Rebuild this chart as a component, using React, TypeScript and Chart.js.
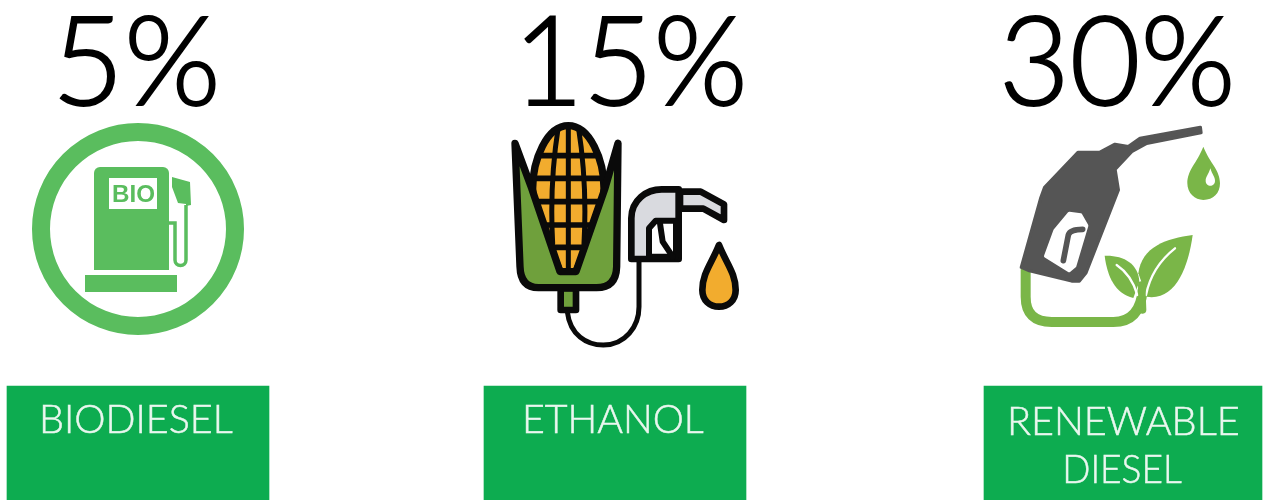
import React, { useEffect, useRef } from "react";
import { Chart, registerables } from "chart.js";

Chart.register(...registerables);

const categories = ["BIODIESEL", "ETHANOL", "RENEWABLE DIESEL"];
const shareLabels = ["5%", "15%", "30%"];
const labelLines = [["BIODIESEL"], ["ETHANOL"], ["RENEWABLE", "DIESEL"]];
const boxCenters = [138, 615, 1123];
const boxWidths = [262, 262, 278];
const boxTop = 386;
const boxBottom = 500;
const shareBounds = [[60, 215], [525, 742], [1005, 1230]];
const labelBounds = [[[43, 233, 433]], [[526, 704, 433]], [[1011, 1238, 435], [1066, 1182, 483]]];

function fitText(ctx: CanvasRenderingContext2D, text: string, left: number, right: number, baseline: number, font: string, color: string, bold = 0) {
  ctx.save();
  ctx.font = font;
  ctx.fillStyle = color;
  ctx.strokeStyle = color;
  ctx.textAlign = "left";
  ctx.textBaseline = "alphabetic";
  const m = ctx.measureText(text);
  const ink = m.actualBoundingBoxRight + m.actualBoundingBoxLeft;
  const sx = (right - left) / ink;
  ctx.translate(left, baseline);
  ctx.scale(sx, 1);
  ctx.fillText(text, m.actualBoundingBoxLeft, 0);
  if (bold) {
    ctx.lineWidth = bold;
    ctx.strokeText(text, m.actualBoundingBoxLeft, 0);
  }
  ctx.restore();
}

function poly(ctx: CanvasRenderingContext2D, pts: number[][]) {
  ctx.beginPath();
  pts.forEach((p, i) => (i ? ctx.lineTo(p[0], p[1]) : ctx.moveTo(p[0], p[1])));
  ctx.closePath();
}

function bioIcon(ctx: CanvasRenderingContext2D) {
  const g = "#5ABD5E";
  ctx.save();
  ctx.strokeStyle = g;
  ctx.fillStyle = g;
  ctx.lineWidth = 18;
  ctx.beginPath();
  ctx.arc(138, 229, 97, 0, Math.PI * 2);
  ctx.stroke();
  ctx.beginPath();
  ctx.roundRect(94, 167, 75, 103, [6, 6, 0, 0]);
  ctx.fill();
  ctx.fillRect(85, 275, 92, 17);
  ctx.fillStyle = "#fff";
  ctx.fillRect(109, 178, 48, 31);
  fitText(ctx, "BIO", 113, 154, 202, "bold 23px 'Liberation Sans'", g);
  ctx.fillStyle = g;
  poly(ctx, [[172, 177], [190, 182], [191, 205], [186, 206], [186, 204], [178, 203], [172, 187]]);
  ctx.fill();
  ctx.lineWidth = 3.5;
  ctx.beginPath();
  ctx.moveTo(168, 223);
  ctx.lineTo(175, 223);
  ctx.lineTo(175, 260);
  ctx.arc(180.5, 260, 5.5, Math.PI, 0, true);
  ctx.lineTo(186, 205);
  ctx.stroke();
  ctx.restore();
}

function cornIcon(ctx: CanvasRenderingContext2D) {
  const k = "#0A0A0A";
  const o = "#F2AC2E";
  ctx.save();
  ctx.translate(490, 110);
  ctx.scale(1 / 3, 1 / 3);
  ctx.lineJoin = "round";
  ctx.lineCap = "round";
  ctx.strokeStyle = k;
  // hose
  ctx.lineWidth = 15;
  ctx.beginPath();
  ctx.moveTo(232, 605);
  ctx.bezierCurveTo(240, 675, 290, 705, 340, 705);
  ctx.bezierCurveTo(405, 705, 447, 650, 447, 590);
  ctx.lineTo(447, 445);
  ctx.stroke();
  // stem
  ctx.lineWidth = 20;
  ctx.fillStyle = "#6FA03C";
  ctx.beginPath();
  ctx.rect(212, 535, 46, 65);
  ctx.fill();
  ctx.stroke();
  // cob
  const cob = () => {
    ctx.beginPath();
    ctx.moveTo(235, 47);
    ctx.bezierCurveTo(170, 47, 128, 150, 128, 235);
    ctx.bezierCurveTo(128, 320, 190, 430, 210, 485);
    ctx.lineTo(258, 485);
    ctx.bezierCurveTo(285, 420, 342, 320, 342, 235);
    ctx.bezierCurveTo(342, 150, 300, 47, 235, 47);
    ctx.closePath();
  };
  ctx.fillStyle = o;
  cob();
  ctx.fill();
  ctx.save();
  cob();
  ctx.clip();
  ctx.lineWidth = 17;
  [137, 205, 275, 345, 412].forEach((y) => {
    ctx.beginPath();
    ctx.moveTo(120, y);
    ctx.lineTo(350, y);
    ctx.stroke();
  });
  ctx.lineWidth = 15;
  ctx.beginPath();
  ctx.moveTo(235, 40);
  ctx.lineTo(235, 490);
  ctx.stroke();
  [[205, 178, 188, 400], [265, 292, 282, 400]].forEach(([s, m, b, y]) => {
    ctx.beginPath();
    ctx.moveTo(s, 50);
    ctx.quadraticCurveTo(m, 220, b, y);
    ctx.stroke();
  });
  ctx.restore();
  ctx.lineWidth = 22;
  cob();
  ctx.stroke();
  // husk
  ctx.fillStyle = "#6FA03C";
  ctx.lineWidth = 22;
  ctx.beginPath();
  ctx.moveTo(75, 100);
  ctx.lineTo(125, 235);
  ctx.lineTo(210, 485);
  ctx.lineTo(258, 485);
  ctx.lineTo(345, 235);
  ctx.lineTo(384, 100);
  ctx.lineTo(380, 470);
  ctx.quadraticCurveTo(378, 533, 320, 533);
  ctx.lineTo(145, 533);
  ctx.quadraticCurveTo(92, 533, 90, 470);
  ctx.closePath();
  ctx.fill();
  ctx.stroke();
  // nozzle
  ctx.lineWidth = 20;
  ctx.fillStyle = "#D9DADF";
  ctx.beginPath();
  ctx.moveTo(570, 245);
  ctx.lineTo(632, 245);
  ctx.lineTo(702, 283);
  ctx.lineTo(702, 330);
  ctx.lineTo(640, 296);
  ctx.lineTo(570, 296);
  ctx.closePath();
  ctx.fill();
  ctx.stroke();
  ctx.beginPath();
  ctx.moveTo(424, 447);
  ctx.lineTo(424, 325);
  ctx.bezierCurveTo(424, 270, 470, 238, 515, 238);
  ctx.lineTo(566, 238);
  ctx.lineTo(566, 447);
  ctx.closePath();
  ctx.fill();
  ctx.stroke();
  ctx.fillStyle = "#fff";
  ctx.lineWidth = 18;
  ctx.beginPath();
  ctx.moveTo(477, 440);
  ctx.lineTo(477, 355);
  ctx.lineTo(497, 332);
  ctx.lineTo(558, 332);
  ctx.lineTo(558, 440);
  ctx.closePath();
  ctx.fill();
  ctx.stroke();
  ctx.beginPath();
  ctx.moveTo(510, 340);
  ctx.lineTo(518, 395);
  ctx.lineTo(548, 440);
  ctx.stroke();
  // drop
  ctx.fillStyle = o;
  ctx.lineWidth = 20;
  ctx.beginPath();
  ctx.moveTo(687, 405);
  ctx.bezierCurveTo(665, 460, 637, 490, 637, 540);
  ctx.bezierCurveTo(637, 572, 660, 590, 687, 590);
  ctx.bezierCurveTo(714, 590, 737, 572, 737, 540);
  ctx.bezierCurveTo(737, 490, 709, 460, 687, 405);
  ctx.closePath();
  ctx.fill();
  ctx.stroke();
  ctx.restore();
}

function dieselIcon(ctx: CanvasRenderingContext2D) {
  const g = "#7AB648";
  const d = "#555555";
  ctx.save();
  ctx.translate(1000, 110);
  ctx.scale(1 / 3, 1 / 3);
  ctx.lineCap = "round";
  ctx.lineJoin = "round";
  // hose
  ctx.strokeStyle = g;
  ctx.lineWidth = 30;
  ctx.beginPath();
  ctx.moveTo(77, 480);
  ctx.lineTo(77, 560);
  ctx.quadraticCurveTo(77, 636, 155, 636);
  ctx.lineTo(340, 636);
  ctx.quadraticCurveTo(420, 636, 428, 540);
  ctx.stroke();
  // nozzle
  ctx.fillStyle = d;
  ctx.strokeStyle = d;
  ctx.lineWidth = 10;
  poly(ctx, [[64, 472], [122, 265], [134, 232], [234, 127], [300, 127], [345, 103], [385, 110], [420, 85], [601, 52], [603, 68], [440, 100], [395, 125], [345, 178], [355, 240], [258, 488], [238, 513], [215, 513], [88, 482]]);
  ctx.fill();
  ctx.stroke();
  ctx.fillStyle = "#fff";
  ctx.strokeStyle = "#fff";
  ctx.lineWidth = 10;
  poly(ctx, [[137, 438], [165, 362], [208, 310], [242, 315], [260, 347], [224, 468], [207, 482]]);
  ctx.fill();
  ctx.stroke();
  ctx.strokeStyle = d;
  ctx.lineWidth = 17;
  ctx.beginPath();
  ctx.moveTo(190, 452);
  ctx.lineTo(205, 375);
  ctx.quadraticCurveTo(210, 358, 248, 358);
  ctx.stroke();
  // drop
  ctx.fillStyle = g;
  ctx.beginPath();
  ctx.moveTo(610, 110);
  ctx.bezierCurveTo(590, 160, 562, 180, 562, 220);
  ctx.bezierCurveTo(562, 250, 585, 270, 610, 270);
  ctx.bezierCurveTo(640, 270, 660, 250, 660, 220);
  ctx.bezierCurveTo(660, 180, 630, 160, 610, 110);
  ctx.closePath();
  ctx.fill();
  ctx.fillStyle = "#fff";
  ctx.beginPath();
  ctx.moveTo(631, 175);
  ctx.bezierCurveTo(625, 195, 617, 200, 617, 212);
  ctx.bezierCurveTo(617, 232, 645, 232, 645, 212);
  ctx.bezierCurveTo(645, 200, 637, 195, 631, 175);
  ctx.closePath();
  ctx.fill();
  // leaves
  ctx.fillStyle = g;
  ctx.beginPath();
  ctx.moveTo(578, 375);
  ctx.bezierCurveTo(500, 385, 425, 410, 415, 490);
  ctx.lineTo(440, 560);
  ctx.lineTo(455, 562);
  ctx.bezierCurveTo(530, 560, 565, 470, 578, 375);
  ctx.closePath();
  ctx.fill();
  ctx.beginPath();
  ctx.moveTo(314, 437);
  ctx.bezierCurveTo(370, 435, 415, 460, 418, 515);
  ctx.lineTo(400, 564);
  ctx.bezierCurveTo(345, 550, 322, 500, 314, 437);
  ctx.closePath();
  ctx.fill();
  ctx.strokeStyle = "#fff";
  ctx.lineWidth = 7;
  ctx.beginPath();
  ctx.moveTo(525, 415);
  ctx.quadraticCurveTo(455, 470, 438, 555);
  ctx.stroke();
  ctx.beginPath();
  ctx.moveTo(350, 465);
  ctx.quadraticCurveTo(395, 495, 412, 555);
  ctx.stroke();
  ctx.strokeStyle = g;
  ctx.lineWidth = 22;
  ctx.beginPath();
  ctx.moveTo(428, 600);
  ctx.lineTo(425, 525);
  ctx.stroke();
  ctx.restore();
}

const infographic = {
  id: "infographic",
  afterDatasetsDraw(chart: Chart) {
    const ctx = chart.ctx;
    shareLabels.forEach((t, i) => {
      const [l, r] = shareBounds[i];
      fitText(ctx, t, l, r, 105, "300 124px Lato", "#000", 2);
    });
    labelLines.forEach((lines, i) => {
      lines.forEach((t, j) => {
        const [l, r, b] = labelBounds[i][j];
        fitText(ctx, t, l, r, b, "300 39px Lato", "#EAF7EF", 0.5);
      });
    });
    bioIcon(ctx);
    cornIcon(ctx);
    dieselIcon(ctx);
  },
};

export default function App() {
  const ref = useRef<HTMLCanvasElement>(null);
  useEffect(() => {
    if (!ref.current) return;
    const chart = new Chart(ref.current, {
      type: "bar",
      data: {
        datasets: categories.map((c, i) => ({
          label: c,
          data: [{ x: boxCenters[i], y: [boxTop, boxBottom] }],
          backgroundColor: "#0DAC50",
          barThickness: boxWidths[i],
          grouped: false,
          borderWidth: 0,
        })),
      } as any,
      options: {
        animation: false,
        responsive: false,
        layout: { padding: 0 },
        plugins: { legend: { display: false }, tooltip: { enabled: false } },
        scales: {
          x: { type: "linear", min: 0, max: 1271, display: false, offset: false },
          y: { type: "linear", min: 0, max: 500, reverse: true, display: false },
        },
      },
      plugins: [infographic],
    });
    return () => chart.destroy();
  }, []);
  return (
    <div style={{ position: "fixed", left: 0, top: 0, width: 1271, height: 500, background: "#fff" }}>
      <canvas ref={ref} width={1271} height={500} style={{ display: "block" }} />
    </div>
  );
}
